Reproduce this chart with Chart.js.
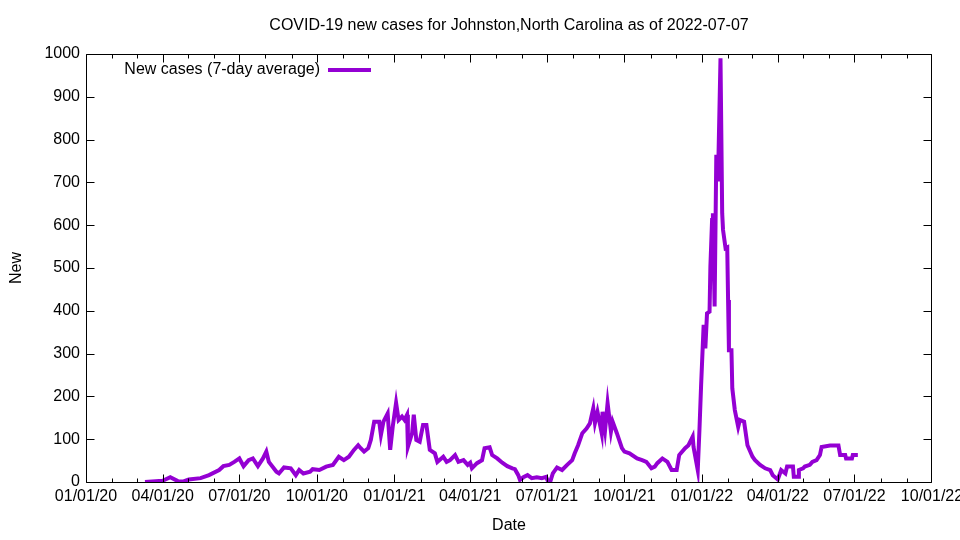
<!DOCTYPE html>
<html>
<head>
<meta charset="utf-8">
<script src="https://cdn.jsdelivr.net/npm/chart.js@4.4.1/dist/chart.umd.min.js"></script>
<style>html,body{margin:0;padding:0;background:#fff;}canvas{display:block;}</style>
</head>
<body>
<canvas id="c" width="960" height="540"></canvas>
<script>
const titleText = "COVID-19 new cases for Johnston,North Carolina as of 2022-07-07";
const seriesLabel = "New cases (7-day average)";
const xAxisTitle = "Date";
const yAxisTitle = "New";

const dates = [
"2020-03-11","2020-04-01","2020-04-10","2020-04-19","2020-04-25","2020-05-02","2020-05-16","2020-05-26",
"2020-06-07","2020-06-12","2020-06-19","2020-06-25","2020-07-01","2020-07-06","2020-07-12","2020-07-17",
"2020-07-23","2020-07-29","2020-08-02","2020-08-05","2020-08-14","2020-08-17","2020-08-23","2020-08-31",
"2020-09-06","2020-09-10","2020-09-15","2020-09-23","2020-09-26","2020-10-04","2020-10-12","2020-10-20",
"2020-10-27","2020-11-02","2020-11-08","2020-11-14","2020-11-19","2020-11-22","2020-11-26","2020-12-01",
"2020-12-04","2020-12-08","2020-12-14","2020-12-16","2020-12-19","2020-12-24","2020-12-27","2020-12-30",
"2021-01-03","2021-01-06","2021-01-10","2021-01-13","2021-01-16","2021-01-17","2021-01-22","2021-01-24",
"2021-01-27","2021-01-31","2021-02-04","2021-02-08","2021-02-12","2021-02-18","2021-02-21","2021-02-28",
"2021-03-04","2021-03-08","2021-03-14","2021-03-18","2021-03-24","2021-03-29","2021-04-01","2021-04-03",
"2021-04-09","2021-04-15","2021-04-18","2021-04-24","2021-04-27","2021-05-03","2021-05-09","2021-05-15",
"2021-05-21","2021-05-24","2021-05-28","2021-05-30","2021-06-03","2021-06-08","2021-06-13","2021-06-19",
"2021-06-25","2021-06-30","2021-07-02","2021-07-05","2021-07-08","2021-07-13","2021-07-19","2021-07-25",
"2021-07-31","2021-08-03","2021-08-07","2021-08-12","2021-08-17","2021-08-21","2021-08-25","2021-08-27",
"2021-08-30","2021-09-04","2021-09-05","2021-09-08","2021-09-11","2021-09-15","2021-09-17","2021-09-22",
"2021-09-28","2021-10-01","2021-10-07","2021-10-16","2021-10-22","2021-10-27","2021-11-02","2021-11-06",
"2021-11-09","2021-11-15","2021-11-21","2021-11-26","2021-12-02","2021-12-05","2021-12-12","2021-12-16",
"2021-12-21","2021-12-22","2021-12-27","2021-12-29","2021-12-31","2022-01-01","2022-01-03","2022-01-05",
"2022-01-07","2022-01-10","2022-01-11","2022-01-13","2022-01-14","2022-01-16","2022-01-18","2022-01-19",
"2022-01-20","2022-01-23","2022-01-25","2022-01-26","2022-01-29","2022-01-31","2022-02-01","2022-02-02",
"2022-02-05","2022-02-06","2022-02-09","2022-02-13","2022-02-15","2022-02-20","2022-02-24","2022-03-02",
"2022-03-05","2022-03-11","2022-03-17","2022-03-23","2022-03-26","2022-04-01","2022-04-05","2022-04-10",
"2022-04-12","2022-04-19","2022-04-20","2022-04-25","2022-04-26","2022-05-01","2022-05-03","2022-05-09",
"2022-05-12","2022-05-17","2022-05-21","2022-05-23","2022-06-02","2022-06-12","2022-06-14","2022-06-20",
"2022-06-21","2022-06-28","2022-06-29","2022-07-05"
];

const newCases = [
0,3,11,2,1,6,9,16,
28,37,40,47,55,37,51,55,
37,55,71,47,24,20,34,32,
16,28,20,24,30,28,36,40,
59,51,59,75,86,79,71,79,
98,141,141,110,141,160,75,129,
185,145,153,145,157,82,114,157,
98,94,133,133,75,67,47,59,
47,51,63,47,51,40,45,32,
44,51,79,81,63,55,45,37,
32,30,16,5,11,16,9,11,
9,12,3,1,20,34,28,40,
51,67,86,114,125,137,172,138,
164,114,164,121,184,118,141,114,
79,71,67,55,51,47,32,36,
44,55,47,28,28,63,79,86,
106,82,28,121,227,227,367,312,
394,398,503,612,628,410,760,760,
702,990,628,589,546,548,425,308,
308,219,168,129,145,141,86,59,
51,40,32,28,16,6,28,20,
36,36,12,12,28,32,36,40,
47,51,63,82,85,85,63,63,
55,55,63,63
];

const xTickDates = ["2020-01-01","2020-04-01","2020-07-01","2020-10-01","2021-01-01","2021-04-01",
  "2021-07-01","2021-10-01","2022-01-01","2022-04-01","2022-07-01","2022-10-01"];
const xTickLabels = ["01/01/20","04/01/20","07/01/20","10/01/20","01/01/21","04/01/21",
  "07/01/21","10/01/21","01/01/22","04/01/22","07/01/22","10/01/22"];
const xMinorTickDates = ["2020-02-01","2020-03-01","2020-05-01","2020-06-01","2020-08-01","2020-09-01",
  "2020-11-01","2020-12-01","2021-02-01","2021-03-01","2021-05-01","2021-06-01","2021-08-01","2021-09-01",
  "2021-11-01","2021-12-01","2022-02-01","2022-03-01","2022-05-01","2022-06-01","2022-08-01","2022-09-01"];
const yMin = 0, yMax = 1000, yStep = 100;

const lineColor = "#9400d3";
const FONT = '"Liberation Sans", Arial, sans-serif';

function toMs(s) {
  const p = s.split("-").map(Number);
  return Date.UTC(p[0], p[1] - 1, p[2]);
}

const points = dates.map((d, i) => ({ x: toMs(d), y: newCases[i] }));

Chart.defaults.font.family = FONT;
Chart.defaults.font.size = 16;
Chart.defaults.color = "#000";

const framePlugin = {
  id: "gnuFrame",
  afterDatasetsDraw(chart) {
    const { ctx, chartArea: a, scales: { x, y } } = chart;
    const MAJ = 8, MIN = 4;
    const L = Math.round(a.left) + 0.5, R = Math.round(a.right) - 0.5;
    const T = Math.round(a.top) + 0.5, B = Math.round(a.bottom) + 0.5;
    const clampX = v => Math.max(L, Math.min(R, Math.round(v) + 0.5));
    ctx.save();
    ctx.strokeStyle = "#000";
    ctx.lineWidth = 1;
    ctx.beginPath();
    ctx.rect(L, T, R - L, B - T);
    xTickDates.forEach(d => {
      const px = clampX(x.getPixelForValue(toMs(d)));
      ctx.moveTo(px, B); ctx.lineTo(px, B - MAJ);
      ctx.moveTo(px, T); ctx.lineTo(px, T + MAJ);
    });
    xMinorTickDates.forEach(d => {
      const px = clampX(x.getPixelForValue(toMs(d)));
      ctx.moveTo(px, B); ctx.lineTo(px, B - MIN);
      ctx.moveTo(px, T); ctx.lineTo(px, T + MIN);
    });
    y.ticks.forEach(t => {
      const py = Math.round(y.getPixelForValue(t.value)) + 0.5;
      ctx.moveTo(L, py); ctx.lineTo(L + MAJ, py);
      ctx.moveTo(R, py); ctx.lineTo(R - MAJ, py);
    });
    ctx.stroke();

    // key (legend)
    ctx.font = "16px " + FONT;
    ctx.fillStyle = "#000";
    ctx.textAlign = "right";
    ctx.textBaseline = "middle";
    const ky = a.top + 16;
    ctx.fillText(chart.data.datasets[0].label, a.left + 234, ky);
    ctx.strokeStyle = chart.data.datasets[0].borderColor;
    ctx.lineWidth = 4;
    ctx.beginPath();
    ctx.moveTo(a.left + 242, ky);
    ctx.lineTo(a.left + 285, ky);
    ctx.stroke();

    // title
    ctx.textAlign = "center";
    ctx.fillText(titleText, (a.left + a.right) / 2, 26);
    ctx.restore();
  }
};

new Chart(document.getElementById("c"), {
  type: "line",
  data: {
    datasets: [{
      label: seriesLabel,
      data: points,
      borderColor: lineColor,
      backgroundColor: lineColor,
      borderWidth: 4,
      pointRadius: 0,
      tension: 0,
      fill: false
    }]
  },
  options: {
    responsive: false,
    animation: false,
    devicePixelRatio: 1,
    parsing: false,
    layout: { autoPadding: false, padding: { top: 54, right: 28, left: 0, bottom: 0 } },
    plugins: { legend: { display: false }, title: { display: false }, tooltip: { enabled: false } },
    scales: {
      x: {
        type: "linear",
        min: toMs(xTickDates[0]),
        max: toMs(xTickDates[xTickDates.length - 1]),
        grid: { display: false, drawTicks: false },
        border: { display: false },
        afterBuildTicks(s) { s.ticks = xTickDates.map(d => ({ value: toMs(d) })); },
        afterFit(s) { s.height = 58; s.paddingLeft = 0; s.paddingRight = 0; },
        ticks: {
          autoSkip: false, maxRotation: 0, minRotation: 0, padding: 5,
          callback: (v, i) => xTickLabels[i]
        },
        title: { display: true, text: xAxisTitle, padding: { top: 0, bottom: 4.4 } }
      },
      y: {
        type: "linear",
        min: yMin, max: yMax,
        grid: { display: false, drawTicks: false },
        border: { display: false },
        afterFit(s) { s.width = 86; s.paddingTop = 0; s.paddingBottom = 0; },
        ticks: { stepSize: yStep, padding: 6, callback: v => String(v) },
        title: { display: true, text: yAxisTitle, padding: { top: 7.4, bottom: 0 } }
      }
    }
  },
  plugins: [framePlugin]
});
</script>
</body>
</html>
